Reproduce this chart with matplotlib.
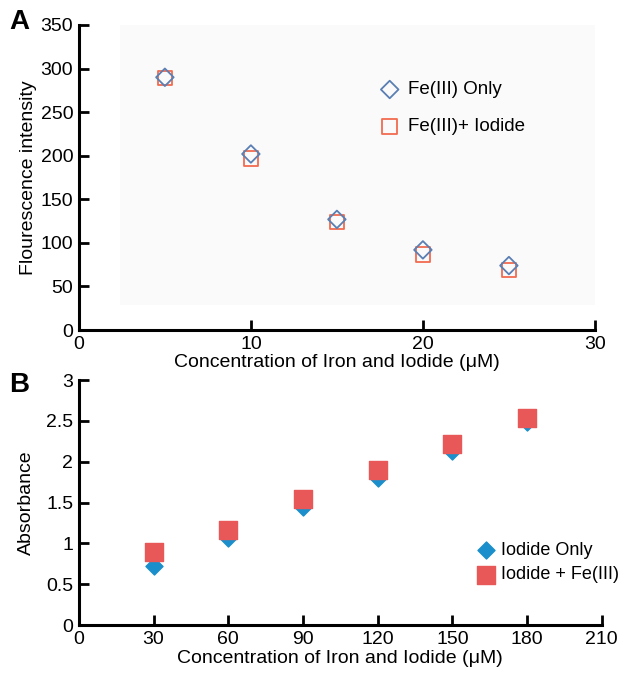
import matplotlib
matplotlib.use("Agg")
import matplotlib.pyplot as plt
from matplotlib.patches import Rectangle

plt.rcParams["font.family"] = ["Liberation Sans", "DejaVu Sans"]

# Panel A: fluorescence
conc_a = [5, 10, 15, 20, 25]
fe_only = [290, 202, 127, 92, 74]
fe_iodide = [289, 197, 124, 87, 69]

# Panel B: absorbance
conc_b = [30, 60, 90, 120, 150, 180]
iodide_only = [0.72, 1.07, 1.45, 1.80, 2.13, 2.48]
iodide_fe = [0.89, 1.16, 1.54, 1.90, 2.22, 2.53]

xlabel = "Concentration of Iron and Iodide (\u03bcM)"
FS = 14


def style_axes(ax):
    for side in ("top", "right"):
        ax.spines[side].set_visible(False)
    for side in ("left", "bottom"):
        ax.spines[side].set_linewidth(2.2)
    ax.tick_params(direction="in", length=7, width=2, labelsize=FS, pad=4)


fig = plt.figure(figsize=(6.21, 6.75), dpi=100)

# --- A ---
ax1 = fig.add_axes([0.127, 0.511, 0.831, 0.452])
ax1.add_patch(Rectangle((2.4, 29), 28, 321, facecolor="#fafafa", edgecolor="none", zorder=0))
ax1.scatter(conc_a, fe_only, marker="D", s=80, facecolors="none", edgecolors="#5a7fb3",
            linewidths=1.3, label="Fe(III) Only", zorder=3)
ax1.scatter(conc_a, fe_iodide, marker="s", s=110, facecolors="none", edgecolors="#f26b4f",
            linewidths=1.3, label="Fe(III)+ Iodide", zorder=2)
ax1.set_xlim(0, 30)
ax1.set_ylim(0, 350)
ax1.set_xticks([0, 10, 20, 30])
ax1.set_yticks(range(0, 351, 50))
style_axes(ax1)
ax1.set_xlabel(xlabel, fontsize=FS, labelpad=1)
ax1.set_ylabel("Flourescence intensity", fontsize=FS, labelpad=3)
ax1.legend(loc="upper left", bbox_to_anchor=(0.566, 0.84), frameon=False, fontsize=13.5,
           handlelength=1.2, handletextpad=0.4, labelspacing=1.05, scatterpoints=1,
           borderaxespad=0)
fig.text(0.015, 0.967, "A", fontsize=20, fontweight="bold", va="center")

# --- B ---
ax2 = fig.add_axes([0.127, 0.074, 0.842, 0.363])
ax2.scatter(conc_b, iodide_only, marker="D", s=75, color="#1a8fcb", label="Iodide Only", zorder=2)
ax2.scatter(conc_b, iodide_fe, marker="s", s=150, color="#e85858", label="Iodide + Fe(III)", zorder=3)
ax2.set_xlim(0, 210)
ax2.set_ylim(0, 3)
ax2.set_xticks(range(0, 211, 30))
ax2.set_yticks([0, 0.5, 1, 1.5, 2, 2.5, 3])
ax2.set_yticklabels(["0", "0.5", "1", "1.5", "2", "2.5", "3"])
style_axes(ax2)
ax2.set_xlabel(xlabel, fontsize=FS, labelpad=2)
ax2.set_ylabel("Absorbance", fontsize=FS, labelpad=8)
ax2.legend(loc="upper left", bbox_to_anchor=(0.748, 0.368), frameon=False, fontsize=13,
           handlelength=1.0, handletextpad=0.3, labelspacing=0.4, scatterpoints=1,
           borderaxespad=0)
fig.text(0.015, 0.43, "B", fontsize=20, fontweight="bold", va="center")

fig.savefig("out.png", dpi=100)
